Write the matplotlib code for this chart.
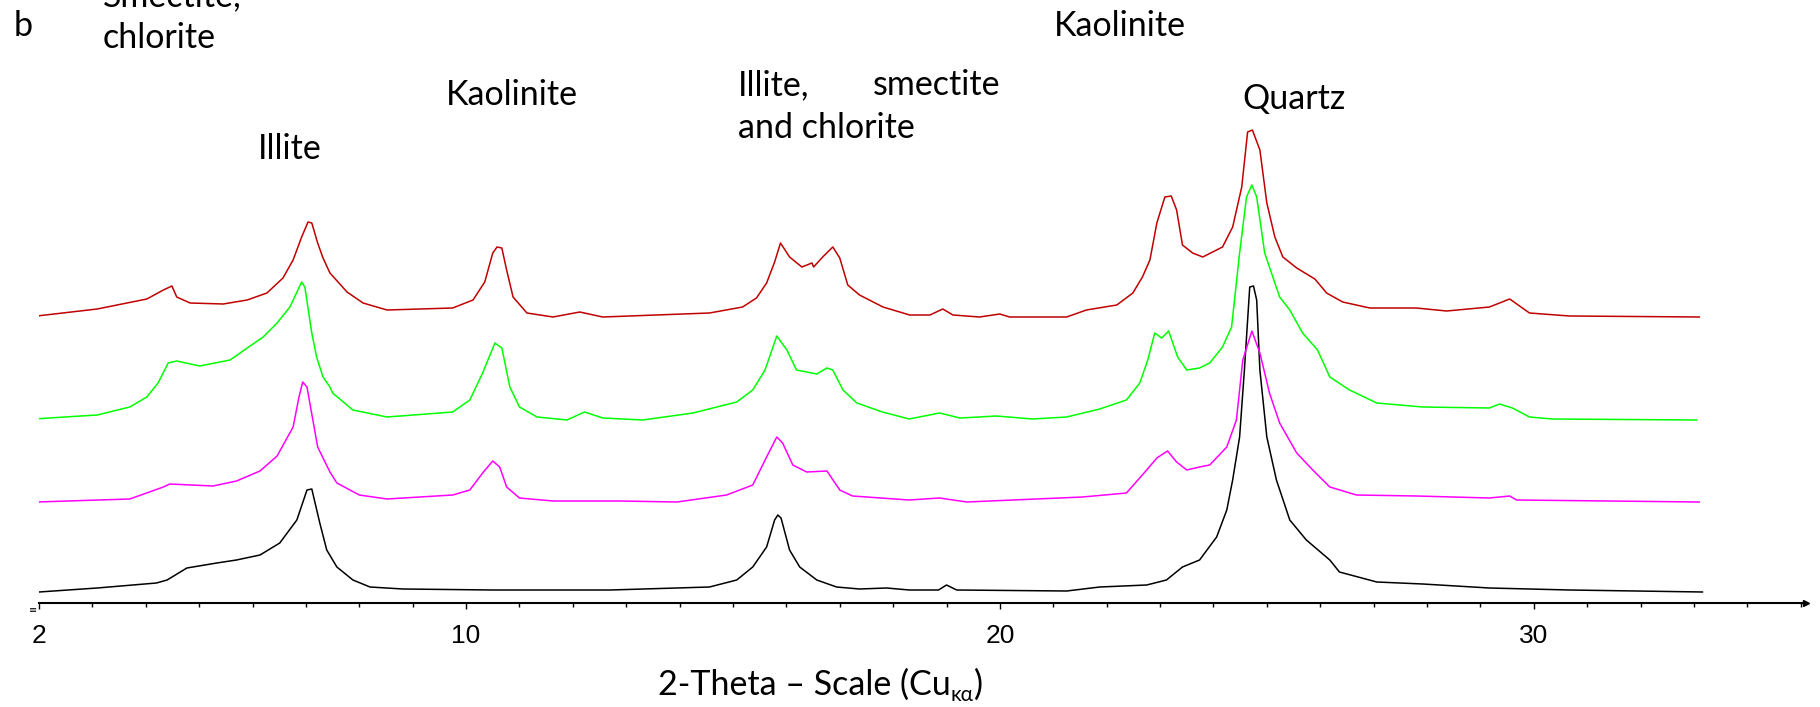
import matplotlib
matplotlib.use("Agg")
import matplotlib.pyplot as plt
from matplotlib.ticker import MultipleLocator

# 2-theta positions and stacked intensities (arbitrary counts)
tt_black = [2.0, 3.09, 4.2, 4.4, 4.77, 5.33, 5.7, 6.14, 6.51, 6.83, 7.02, 7.11, 7.26, 7.39, 7.58,
            7.88, 8.2, 8.82, 10.5, 12.7, 14.56, 15.07, 15.37, 15.63, 15.78, 15.84, 15.9, 16.06,
            16.25, 16.57, 16.94, 17.37, 17.88, 18.3, 18.85, 19.0, 19.19, 21.25, 21.87, 22.75,
            23.12, 23.42, 23.74, 24.06, 24.25, 24.36, 24.49, 24.58, 24.68, 24.75, 24.81, 24.87,
            25.0, 25.18, 25.43, 25.74, 26.18, 26.36, 27.06, 27.92, 29.17, 30.67, 33.16]
i_black = [11, 15, 20, 23, 35, 40, 43, 48, 60, 83, 113, 114, 80, 53, 36,
           23, 16, 14, 13, 13, 16, 23, 36, 56, 83, 88, 85, 53,
           36, 23, 16, 14, 15, 13, 13, 18, 13, 12, 16, 18,
           23, 36, 43, 66, 93, 123, 166, 233, 316, 317, 303, 233,
           166, 123, 83, 63, 43, 31, 21, 19, 15, 13, 11]

tt_magenta = [1.96, 3.7, 4.33, 4.45, 5.26, 5.7, 6.14, 6.46, 6.76, 6.87, 6.94, 7.02, 7.13, 7.22,
              7.45, 7.58, 8.0, 8.52, 9.75, 10.07, 10.31, 10.5, 10.63, 10.76, 11.0, 11.63, 12.88,
              13.95, 14.88, 15.37, 15.63, 15.82, 15.93, 16.12, 16.38, 16.76, 17.0, 17.24, 18.3,
              18.87, 19.38, 21.55, 22.37, 22.75, 22.94, 23.14, 23.31, 23.5, 23.74, 23.93, 24.25,
              24.43, 24.55, 24.72, 24.87, 25.05, 25.24, 25.56, 25.86, 26.18, 26.68, 27.8, 29.17,
              29.55, 29.68, 33.1]
i_magenta = [101, 104, 116, 119, 117, 122, 132, 147, 176, 206, 221, 216, 183, 156,
             131, 120, 108, 104, 108, 113, 130, 142, 136, 116, 105, 102, 102,
             101, 108, 118, 146, 166, 160, 138, 131, 132, 113, 107, 103,
             105, 101, 106, 110, 133, 145, 152, 141, 133, 136, 138, 156,
             183, 243, 272, 250, 210, 180, 150, 133, 116, 108, 107, 105,
             107, 103, 101]

tt_green = [1.89, 3.09, 3.7, 4.02, 4.23, 4.42, 4.58, 5.01, 5.58, 5.9, 6.2, 6.46, 6.7, 6.92, 6.98,
            7.11, 7.2, 7.32, 7.45, 7.5, 7.88, 8.52, 9.75, 10.07, 10.31, 10.54, 10.67, 10.82, 11.0,
            11.33, 11.89, 12.22, 12.56, 13.31, 14.25, 15.07, 15.37, 15.6, 15.82, 16.01, 16.19,
            16.57, 16.76, 16.87, 17.06, 17.32, 17.8, 18.3, 18.87, 19.25, 19.94, 20.61, 21.25,
            21.87, 22.37, 22.62, 22.77, 22.9, 23.03, 23.16, 23.33, 23.5, 23.74, 23.93, 24.17,
            24.34, 24.49, 24.62, 24.72, 24.81, 24.96, 25.24, 25.43, 25.67, 25.95, 26.18, 26.55,
            27.06, 27.92, 29.17, 29.36, 29.6, 29.92, 30.35, 33.05]
i_green = [184, 188, 196, 206, 220, 240, 242, 237, 243, 255, 266, 280, 296, 321, 316,
           270, 246, 226, 216, 210, 193, 186, 191, 203, 230, 260, 255, 216, 196,
           186, 183, 191, 185, 183, 190, 201, 213, 233, 267, 253, 233,
           229, 235, 233, 213, 200, 191, 184, 190, 185, 187, 184, 186,
           194, 203, 220, 243, 270, 265, 272, 246, 233, 235, 240, 256,
           276, 350, 406, 418, 406, 350, 306, 293, 270, 253, 226, 213,
           200, 196, 195, 199, 195, 186, 184, 183]

tt_red = [1.96, 3.09, 4.02, 4.33, 4.49, 4.58, 4.83, 5.45, 5.9, 6.27, 6.57, 6.76, 6.92, 7.04, 7.11,
          7.22, 7.32, 7.45, 7.77, 8.07, 8.52, 9.75, 10.13, 10.35, 10.5, 10.58, 10.67, 10.76, 10.88,
          11.14, 11.63, 12.13, 12.56, 14.56, 15.18, 15.44, 15.63, 15.78, 15.89, 16.06, 16.29,
          16.48, 16.51, 16.68, 16.87, 17.0, 17.15, 17.37, 17.81, 18.31, 18.69, 18.93, 19.12,
          19.62, 20.0, 20.18, 21.25, 21.62, 22.19, 22.49, 22.67, 22.81, 22.94, 23.09, 23.21,
          23.31, 23.42, 23.61, 23.8, 24.17, 24.36, 24.53, 24.64, 24.73, 24.87, 25.0, 25.15,
          25.3, 25.56, 25.9, 26.12, 26.42, 26.93, 27.8, 28.37, 29.17, 29.36, 29.55, 29.92,
          30.67, 33.1]
i_red = [287, 294, 304, 313, 317, 306, 300, 299, 303, 310, 325, 343, 366, 381, 380,
         360, 345, 330, 311, 300, 293, 295, 303, 321, 350, 356, 355, 333, 306,
         290, 286, 291, 286, 290, 296, 305, 320, 341, 360, 346, 336,
         340, 336, 346, 356, 345, 318, 308, 296, 288, 288, 294, 288,
         286, 289, 286, 286, 293, 298, 310, 326, 343, 380, 406, 407,
         393, 358, 350, 346, 356, 376, 416, 471, 473, 453, 400, 366,
         346, 335, 324, 310, 301, 295, 295, 292, 296, 300, 304, 290,
         287, 286]

tick_vals = [2, 10, 20, 30]

W, H = 1820, 707
fig = plt.figure(figsize=(W / 100, H / 100), dpi=100)
ax = fig.add_axes([39 / W, (H - 603) / H, (1806 - 39) / W, 603 / H])

ax.plot(tt_black, i_black, color="black", lw=1.1)
ax.plot(tt_magenta, i_magenta, color="#ff00ff", lw=1.1)
ax.plot(tt_green, i_green, color="#00ff00", lw=1.1)
ax.plot(tt_red, i_red, color="#c00000", lw=1.1)

ax.set_xlim(2, 35.1)
ax.set_ylim(0, 603)
for s in ["top", "right", "left"]:
    ax.spines[s].set_visible(False)
ax.spines["bottom"].set_linewidth(1.5)
ax.set_yticks([])
ax.set_xticks(tick_vals)
ax.xaxis.set_minor_locator(MultipleLocator(1))
ax.tick_params(axis="x", which="major", direction="out", length=4, width=1, pad=11,
               labelsize=19)
ax.tick_params(axis="x", which="minor", direction="out", length=3, width=1)
for lab in ax.get_xticklabels():
    lab.set_family(["Liberation Sans Narrow", "Liberation Sans", "DejaVu Sans"])

# arrow head at the end of the axis and small marks at the origin
ax.plot(1, 0, marker=">", color="black", ms=4, transform=ax.transAxes, clip_on=False)
ax.text(-0.001, -0.004, "≡", transform=ax.transAxes, ha="right", va="top", fontsize=7)

fam = ["Lato", "DejaVu Sans"]


def ftext(x, y, s, **kw):
    kw.setdefault("fontsize", 24.5)
    kw.setdefault("va", "center")
    return fig.text(x / W, 1 - y / H, s, family=fam, **kw)


ftext(14, 26, "b")
ftext(103, -4, "Smectite,")
ftext(103, 38, "chlorite")
ftext(258, 149, "Illite")
ftext(446, 95, "Kaolinite")
ftext(738, 85, "Illite,")
ftext(1000, 85, "smectite", ha="right")
ftext(738, 128, "and chlorite")
ftext(1054, 26, "Kaolinite")
ftext(1242, 99, "Quartz")

# x label with subscript
fig.canvas.draw()
r = fig.canvas.get_renderer()
t1 = ftext(658, 685, "2-Theta – Scale (Cu")
bb = t1.get_window_extent(r)
t2 = fig.text(bb.x1 / W, (1 - 695 / H), "κα", family=fam, fontsize=15, va="center")
bb2 = t2.get_window_extent(r)
ftext(bb2.x1, 685, ")")

fig.savefig("out.png", dpi=100)
